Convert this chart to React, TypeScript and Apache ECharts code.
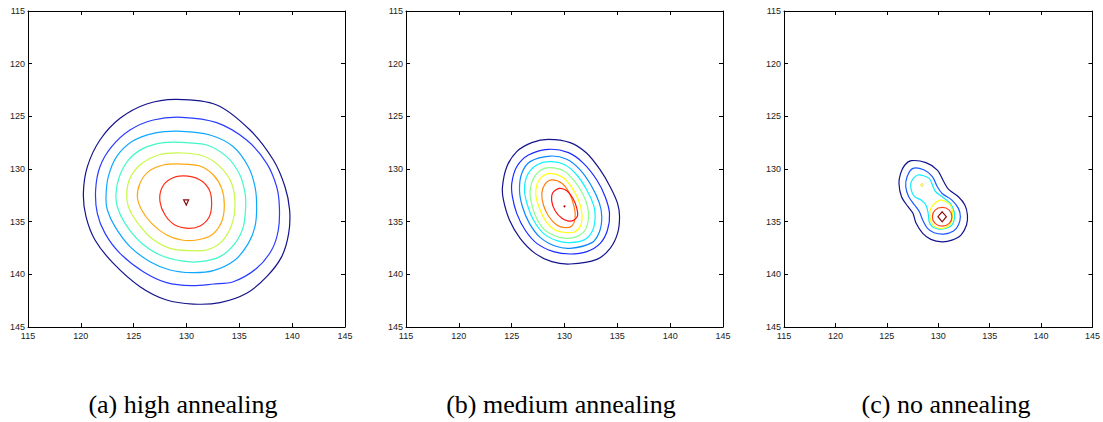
import React, { useEffect, useRef } from "react";
import * as echarts from "echarts";

// ---------- axis ticks ----------
const AXIS_MIN = 115;
const AXIS_MAX = 145;
const AXIS_STEP = 5;

// ---------- captions ----------
const captions = ["(a) high annealing", "(b) medium annealing", "(c) no annealing"];

// ---------- (a) high annealing: contour lines, outer -> inner ----------
const highL1 = [[129.04,123.39],[132.86,123.92],[136.01,126.30],[138.22,129.15],[139.32,131.68],[139.76,133.89],[139.67,136.11],[139.01,138.32],[137.59,140.22],[135.69,141.80],[133.17,142.69],[130.65,142.82],[128.12,142.44],[125.60,141.17],[123.08,138.96],[121.34,136.74],[120.49,134.53],[120.24,132.31],[120.62,129.78],[121.81,127.25],[123.71,125.19],[126.23,123.83]];
const highL2 = [[129.54,125.09],[132.86,125.60],[135.69,127.25],[137.59,129.46],[138.53,131.68],[138.79,133.58],[138.69,135.79],[138.06,137.69],[136.64,139.43],[134.43,140.70],[132.54,140.92],[130.49,141.08],[128.12,140.79],[125.91,139.75],[123.71,138.01],[122.29,136.11],[121.56,134.21],[121.40,131.99],[121.81,129.78],[122.92,127.88],[124.65,126.30],[126.86,125.35]];
const highL3 = [[129.54,126.42],[132.22,126.77],[134.43,127.88],[135.85,129.78],[136.48,131.68],[136.64,133.58],[136.48,135.47],[135.85,137.06],[134.59,138.64],[132.54,139.65],[130.49,139.84],[128.44,139.59],[126.55,138.80],[124.65,137.37],[123.23,135.47],[122.51,133.89],[122.38,132.63],[122.60,130.73],[123.39,128.83],[124.81,127.41],[126.86,126.61]];
const highL4 = [[129.54,127.47],[131.91,127.72],[133.80,128.83],[135.06,130.57],[135.54,132.31],[135.60,133.58],[135.38,135.47],[134.59,137.06],[133.17,138.32],[131.28,138.80],[129.54,138.73],[127.49,138.16],[125.60,136.90],[124.18,135.16],[123.45,133.58],[123.33,132.31],[123.64,130.73],[124.50,129.15],[125.91,128.04],[127.81,127.50]];
const highL5 = [[129.54,128.48],[131.59,128.77],[133.17,129.78],[134.27,131.36],[134.59,133.42],[134.27,135.32],[133.33,136.90],[131.91,137.69],[130.33,137.75],[128.44,137.53],[126.70,136.58],[125.28,135.00],[124.50,133.58],[124.34,132.31],[124.65,130.89],[125.60,129.62],[127.33,128.67]];
const highL6 = [[129.54,129.53],[131.28,129.72],[132.54,130.57],[133.33,131.84],[133.58,133.42],[133.33,135.00],[132.38,136.27],[130.96,136.74],[129.54,136.74],[128.12,136.27],[126.70,135.16],[125.76,133.89],[125.35,132.63],[125.60,131.36],[126.39,130.25],[127.81,129.62]];
const highL7 = [[129.70,130.66],[131.28,131.04],[132.16,131.99],[132.38,133.26],[132.16,134.53],[131.28,135.41],[130.17,135.63],[128.91,135.32],[127.97,134.37],[127.49,133.10],[127.65,131.84],[128.44,130.98]];
const highL8 = [[129.73,132.94],[130.20,132.94],[129.98,133.42]];
const highColors = ["#14148c", "#2a3cff", "#10a8ff", "#40f8c8", "#c8f848", "#ffa810", "#ff3018", "#8c0c0c"];

// ---------- (b) medium annealing ----------
const medL1 = [[128.48,127.18],[130.54,127.50],[132.11,128.51],[133.38,130.09],[134.32,131.68],[135.02,133.26],[135.21,134.53],[135.02,136.11],[134.32,137.53],[133.06,138.58],[130.54,139.02],[128.80,138.80],[127.22,138.01],[125.80,136.58],[124.79,134.84],[124.22,132.94],[124.13,131.68],[124.54,129.78],[125.48,128.35],[126.90,127.50]];
const medL2 = [[128.48,128.13],[130.38,128.45],[131.80,129.46],[133.06,131.04],[133.85,132.63],[134.26,134.21],[134.07,135.79],[133.38,137.06],[132.11,137.85],[130.54,138.07],[128.96,137.85],[127.38,137.06],[126.27,135.79],[125.48,134.21],[125.07,132.63],[125.01,131.36],[125.48,129.78],[126.59,128.67]];
const medL3 = [[128.64,128.77],[130.22,129.08],[131.48,130.09],[132.59,131.68],[133.31,133.26],[133.53,134.53],[133.31,135.95],[132.59,136.99],[130.54,137.53],[129.11,137.31],[127.69,136.49],[126.68,135.16],[126.02,133.58],[125.74,131.99],[125.96,130.41],[126.75,129.30]];
const medL4 = [[128.64,129.30],[130.06,129.62],[131.17,130.57],[132.11,131.99],[132.75,133.42],[132.90,134.53],[132.68,135.79],[131.96,136.68],[130.54,136.99],[129.27,136.80],[128.01,136.11],[127.06,134.84],[126.49,133.42],[126.21,131.99],[126.49,130.57],[127.38,129.62]];
const medL5 = [[128.64,129.87],[129.90,130.16],[130.85,131.04],[131.70,132.31],[132.18,133.58],[132.27,134.68],[131.96,135.79],[131.17,136.42],[130.22,136.58],[129.11,136.36],[127.97,135.63],[127.22,134.37],[126.81,132.94],[126.75,131.99],[127.06,130.89],[127.76,130.09]];
const medL6 = [[128.64,130.41],[129.75,130.73],[130.60,131.61],[131.32,132.94],[131.64,134.21],[131.55,135.32],[131.01,135.95],[130.22,136.04],[129.11,135.79],[128.26,135.00],[127.63,133.73],[127.28,132.47],[127.44,131.36],[127.95,130.66]];
const medL7 = [[128.80,131.04],[129.75,131.36],[130.47,132.31],[130.91,133.58],[131.01,134.68],[130.69,135.41],[130.06,135.57],[129.27,135.32],[128.48,134.46],[128.01,133.42],[127.85,132.31],[128.17,131.42]];
const medL8 = [[129.52,131.84],[130.22,132.06],[130.79,132.78],[131.17,133.73],[131.23,134.46],[130.91,134.84],[130.38,134.94],[129.75,134.68],[129.11,133.96],[128.80,133.10],[128.89,132.25]];
const medPeak = [[130.0, 133.54]];
const medColors = ["#14148c", "#1a2cff", "#0a88ff", "#10f4ff", "#8cff8c", "#ffff10", "#ff8010", "#ff1010", "#c00000"];

// ---------- (c) no annealing ----------
const noL1 = [[127.38,129.21],[128.80,129.40],[129.91,130.10],[130.54,131.21],[131.01,131.94],[131.96,132.63],[132.59,133.42],[132.84,134.37],[132.75,135.32],[132.21,136.27],[131.33,136.75],[130.38,136.91],[129.28,136.68],[128.49,136.11],[127.85,135.16],[127.54,134.21],[127.06,133.58],[126.43,132.63],[126.18,131.37],[126.34,130.42],[126.75,129.62]];
const noL2 = [[127.54,129.94],[128.64,130.10],[129.43,130.73],[129.91,131.68],[130.38,132.32],[131.33,132.95],[131.96,133.74],[132.15,134.53],[131.96,135.32],[131.49,135.89],[130.54,136.18],[129.59,136.05],[128.96,135.64],[128.49,134.85],[128.17,134.06],[127.70,133.42],[127.13,132.63],[126.84,131.68],[126.97,130.73]];
const noL3 = [[128.01,130.57],[129.12,130.89],[129.50,131.68],[129.75,132.16],[130.38,132.63],[131.17,133.27],[131.55,134.06],[131.58,134.69],[131.33,135.32],[130.70,135.64],[130.06,135.70],[129.43,135.48],[129.12,135.01],[129.02,134.21],[128.80,133.42],[128.33,132.95],[127.70,132.63],[127.38,132.00],[127.38,131.21]];
const noL4 = [[130.22,132.95],[131.17,133.42],[131.39,134.37],[131.17,135.23],[130.38,135.64],[129.59,135.42],[129.18,134.53],[129.37,133.58]];
const noL5 = [[130.38,133.65],[131.07,133.90],[131.33,134.53],[131.07,135.16],[130.38,135.42],[129.69,135.16],[129.43,134.53],[129.69,133.90]];
const noL6 = [[130.38,134.06],[130.79,134.53],[130.38,135.01],[129.97,134.53]];
const noSecondPeak = [[128.42, 131.52]];
const noColors = ["#14148c", "#1a58ff", "#10ecff", "#ffff10", "#ff4418", "#8c0c0c", "#e8e800"];

// ---------- layout ----------
const gridLefts = [28, 406, 784];
const captionX = [183, 561, 946];

function contour(g: number, pts: number[][], color: string, smooth: number) {
  return {
    type: "custom",
    xAxisIndex: g * 2,
    yAxisIndex: g * 2,
    coordinateSystem: "cartesian2d",
    data: pts,
    encode: { x: 0, y: 1 },
    silent: true,
    clip: true,
    renderItem: (params: any, api: any) => {
      if (params.dataIndex !== 0) return null;
      const points = pts.map((p) => api.coord(p));
      return {
        type: "polygon",
        shape: { points, smooth },
        style: { fill: "none", stroke: color, lineWidth: 1.2 },
      };
    },
  };
}

function dot(g: number, pts: number[][], color: string, r: number, ring: boolean) {
  return {
    type: "custom",
    xAxisIndex: g * 2,
    yAxisIndex: g * 2,
    coordinateSystem: "cartesian2d",
    data: pts,
    encode: { x: 0, y: 1 },
    silent: true,
    renderItem: (params: any, api: any) => {
      const c = api.coord([api.value(0), api.value(1)]);
      return {
        type: "circle",
        shape: { cx: c[0], cy: c[1], r },
        style: ring
          ? { fill: "none", stroke: color, lineWidth: 1 }
          : { fill: color, stroke: "none" },
      };
    },
  };
}

function buildOption() {
  const grids = gridLefts.map((left) => ({ left, top: 11, width: 317, height: 316, show: false }));
  const axisFont = { fontSize: 9, color: "#222", fontFamily: "Liberation Sans, Arial, sans-serif" };
  const xAxis: any[] = [];
  const yAxis: any[] = [];
  gridLefts.forEach((_, g) => {
    const common = {
      gridIndex: g,
      type: "value",
      min: AXIS_MIN,
      max: AXIS_MAX,
      interval: AXIS_STEP,
      splitLine: { show: false },
      axisLine: { show: true, onZero: false, lineStyle: { color: "#000", width: 1 } },
      axisTick: { show: true, inside: true, length: 4, lineStyle: { color: "#000", width: 1 } },
    };
    xAxis.push({ ...common, position: "bottom", axisLabel: { ...axisFont, margin: 4 } });
    xAxis.push({ ...common, position: "top", axisLabel: { show: false } });
    yAxis.push({ ...common, position: "left", inverse: true, axisLabel: { ...axisFont, margin: 3 } });
    yAxis.push({ ...common, position: "right", inverse: true, axisLabel: { show: false } });
  });

  const series: any[] = [];
  [highL1, highL2, highL3, highL4, highL5, highL6, highL7].forEach((c, i) =>
    series.push(contour(0, c, highColors[i], 0.3))
  );
  series.push(contour(0, highL8, highColors[7], 0));
  [medL1, medL2, medL3, medL4, medL5, medL6, medL7, medL8].forEach((c, i) =>
    series.push(contour(1, c, medColors[i], 0.3))
  );
  series.push(dot(1, medPeak, medColors[8], 1, false));
  [noL1, noL2, noL3, noL4, noL5].forEach((c, i) => series.push(contour(2, c, noColors[i], 0.3)));
  series.push(contour(2, noL6, noColors[5], 0));
  series.push(dot(2, noSecondPeak, noColors[6], 1.3, true));

  const graphic = captions.map((t, i) => ({
    type: "text",
    x: captionX[i],
    y: 404,
    style: {
      text: t,
      fill: "#000",
      fontFamily: "Liberation Serif",
      fontSize: 26,
      textAlign: "center",
      textVerticalAlign: "middle",
    },
  }));

  return {
    animation: false,
    backgroundColor: "#fff",
    grid: grids,
    xAxis,
    yAxis,
    series,
    graphic,
  };
}

export default function App() {
  const ref = useRef<HTMLDivElement>(null);
  useEffect(() => {
    if (!ref.current) return;
    const chart = echarts.init(ref.current, undefined, { renderer: "svg" });
    chart.setOption(buildOption() as any);
    return () => chart.dispose();
  }, []);
  return (
    <div
      ref={ref}
      style={{ position: "absolute", left: 0, top: 0, width: 1103, height: 422 }}
    />
  );
}
